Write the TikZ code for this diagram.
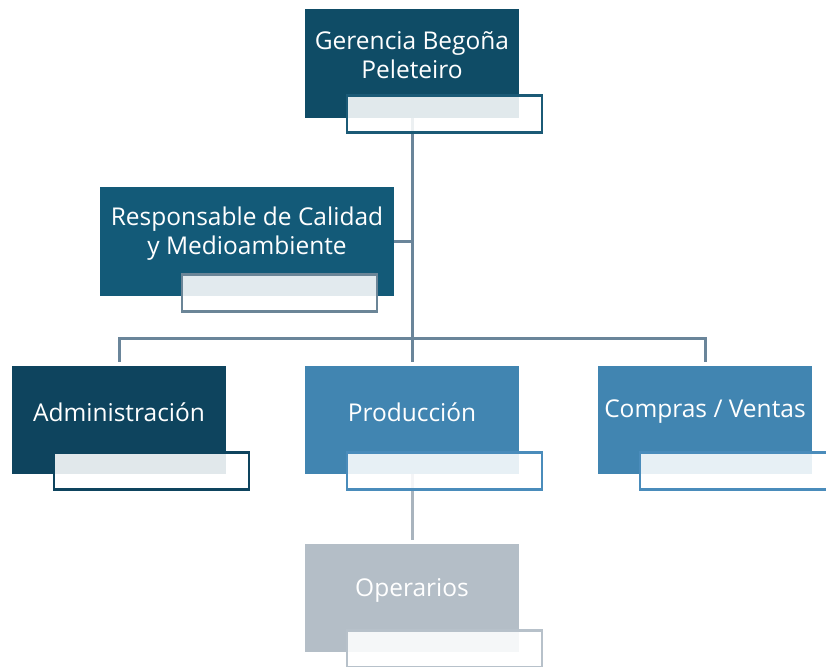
\documentclass[tikz,border=0pt]{standalone}
\usepackage{fontspec}
\setmainfont{Open Sans}
\usetikzlibrary{backgrounds}

\definecolor{gerfill}{HTML}{0F4C66}
\definecolor{gerline}{HTML}{1B5A76}
\definecolor{calfill}{HTML}{135A78}
\definecolor{calline}{HTML}{6B8597}
\definecolor{admfill}{HTML}{0E445E}
\definecolor{prodfill}{HTML}{4185B1}
\definecolor{prodline}{HTML}{4A8CBB}
\definecolor{operfill}{HTML}{B4BEC7}
\definecolor{operline}{HTML}{B7C1CA}
\definecolor{linkblue}{HTML}{6A859A}
\definecolor{linkgray}{HTML}{A9B4BE}

\begin{document}
\begin{tikzpicture}[
		x=1pt, y=-1pt,
		unit/.style={rectangle, minimum width=214pt, minimum height=108pt, inner sep=0pt},
		sub/.style={rectangle, draw, line width=2.4pt, fill=white, fill opacity=0.88,
			minimum width=195pt, minimum height=37pt, inner sep=0pt, anchor=north west},
		every label/.append style={text=white, align=center, yshift=8pt,
			font=\fontsize{24.5}{29}\selectfont},
		link/.style={line width=3pt, draw=linkblue}
	]
  \useasboundingbox (0,0) rectangle (826,666);
  \node (gerencia) [unit, fill=gerfill, minimum height=109pt,
    label=center:{Gerencia Begoña\\Peleteiro}] at (412,63.5) {};
  \node (calidad) [unit, fill=calfill, minimum width=294pt, minimum height=109pt,
    label=center:{Responsable de Calidad\\y Medioambiente}] at (247,241.5) {};
  \node (admin) [unit, fill=admfill, label=center:Administración] at (119,420) {};
  \node (prod) [unit, fill=prodfill, label=center:Producción] at (412,420) {};
  \node (compras) [unit, fill=prodfill, label=center:Compras / Ventas] at (705,420) {};
  \node (oper) [unit, fill=operfill, label=center:Operarios] at (412,598) {};
  \node (gerencia_s) [sub, draw=gerline] at ([xshift=41pt, yshift=24pt]gerencia.south west) {};
  \node (calidad_s) [sub, draw=calline] at ([xshift=81pt, yshift=23pt]calidad.south west) {};
  \node (admin_s) [sub, draw=admfill] at ([xshift=41pt, yshift=23pt]admin.south west) {};
  \node (prod_s) [sub, draw=prodline] at ([xshift=41pt, yshift=23pt]prod.south west) {};
  \node (compras_s) [sub, draw=prodline] at ([xshift=41pt, yshift=23pt]compras.south west) {};
  \node (oper_s) [sub, draw=operline] at ([xshift=41pt, yshift=23pt]oper.south west) {};
  \begin{scope}[on background layer]
    \coordinate (bar) at (412,338);
    \draw[link, shorten >=4pt] (gerencia.south) -- (prod.north);
    \draw[link] (calidad.east) -- (calidad.east -| gerencia.south);
    \draw[link, shorten <=4pt, shorten >=4pt] (admin.north) |- (bar) -| (compras.north);
    \draw[link, draw=linkgray, shorten >=4pt] (prod.south) -- (oper.north);
  \end{scope}
\end{tikzpicture}
\end{document}
